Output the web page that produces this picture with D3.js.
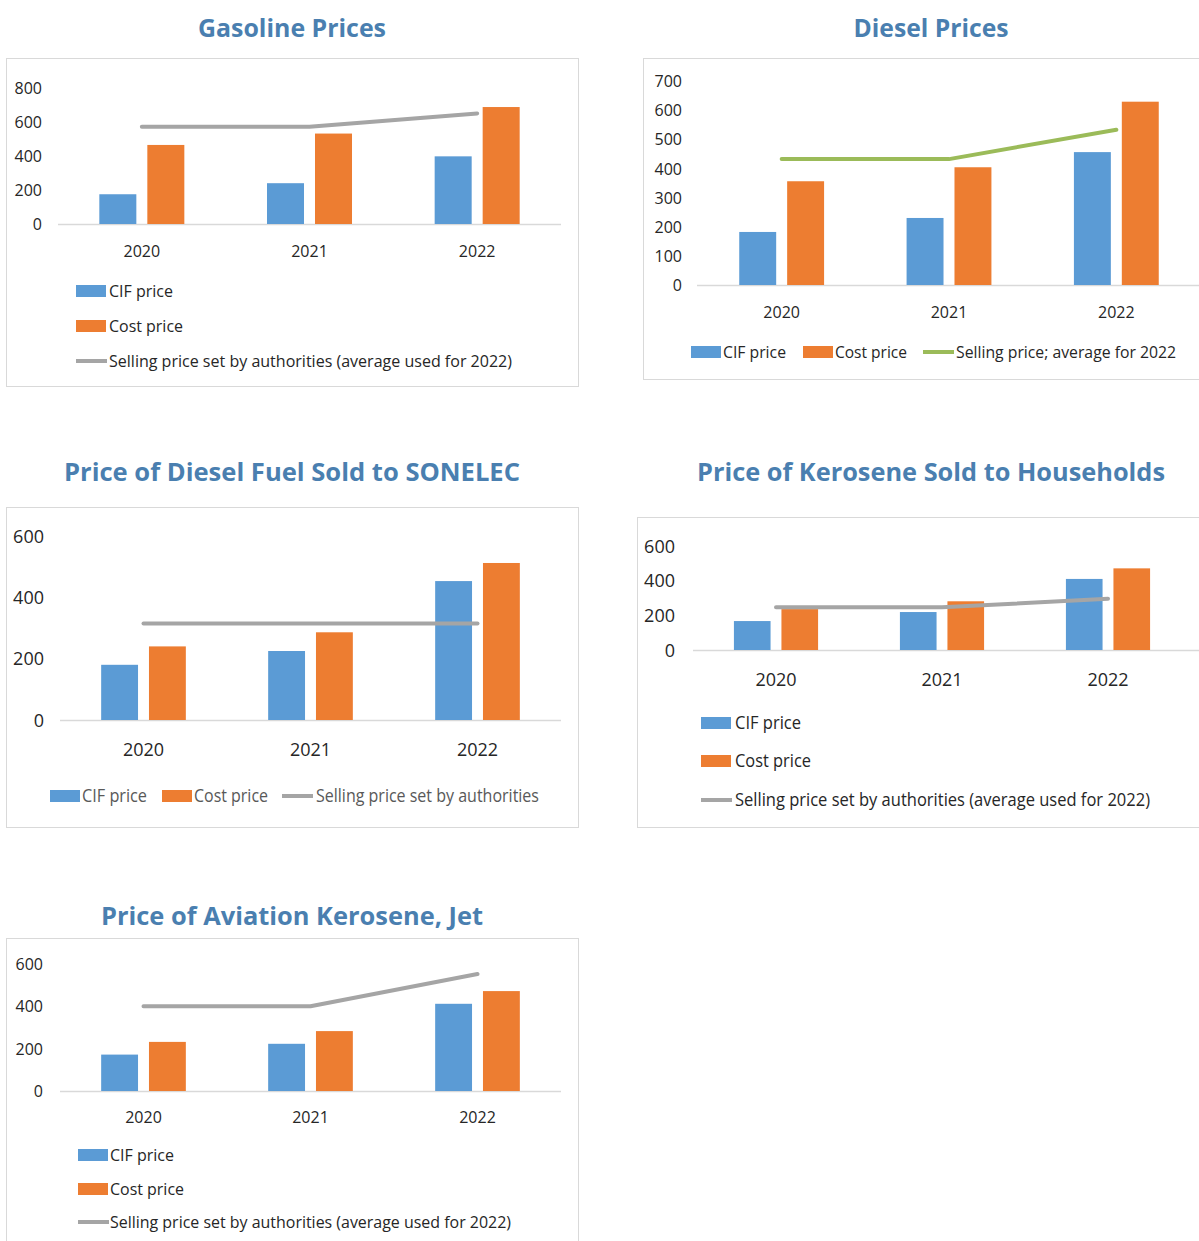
<!DOCTYPE html>
<html><head><meta charset="utf-8">
<script src="https://cdn.jsdelivr.net/npm/d3@7"></script>
<style>
html,body{margin:0;padding:0;background:#fff;}
svg{display:block;font-family:"Open Sans","Noto Sans",sans-serif;}
</style></head>
<body>
<svg id="chart" width="1199" height="1241"></svg>
<script>
// ---------- DATA ----------
const years = ["2020", "2021", "2022"];
const seriesKeys = ["CIF price", "Cost price"];

const gasolineCIF = [175, 240, 398];
const gasolineCost = [465, 532, 688];
const gasolineSelling = [572, 572, 650];
const gasolineTicks = [0, 200, 400, 600, 800];

const dieselCIF = [182, 230, 456];
const dieselCost = [356, 404, 629];
const dieselSelling = [432, 432, 533];
const dieselTicks = [0, 100, 200, 300, 400, 500, 600, 700];

const sonelecCIF = [180, 225, 453];
const sonelecCost = [240, 286, 512];
const sonelecSelling = [315, 315, 315];
const sonelecTicks = [0, 200, 400, 600];

const keroseneCIF = [167, 219, 410];
const keroseneCost = [236, 281, 471];
const keroseneSelling = [246, 246, 296];
const keroseneTicks = [0, 200, 400, 600];

const jetCIF = [172, 223, 412];
const jetCost = [232, 283, 472];
const jetSelling = [400, 400, 553];
const jetTicks = [0, 200, 400, 600];

const titles = ["Gasoline Prices", "Diesel Prices", "Price of Diesel Fuel Sold to SONELEC",
  "Price of Kerosene Sold to Households", "Price of Aviation Kerosene, Jet"];
const sellingLabelLong = "Selling price set by authorities (average used for 2022)";
const sellingLabelDiesel = "Selling price; average for 2022";
const sellingLabelSonelec = "Selling price set by authorities";

// ---------- STYLE ----------
const C_BLUE = "#5b9bd5", C_ORANGE = "#ed7d31", C_GREY = "#a5a5a5", C_GREEN = "#9bbb59";
const C_TITLE = "#4a7fb0", C_TEXT = "#262626", C_FRAME = "#d9d9d9";

const svg = d3.select("#chart");

function drawPanel(p) {
  const g = svg.append("g");
  // frame
  g.append("rect").attr("x", p.box[0] + 0.5).attr("y", p.box[1] + 0.5)
    .attr("width", p.box[2]).attr("height", p.box[3])
    .attr("fill", "none").attr("stroke", C_FRAME).attr("stroke-width", 1);
  // title
  g.append("text").attr("x", p.titleX).attr("y", p.titleY)
    .attr("text-anchor", "middle").attr("font-weight", 700).attr("font-size", 25)
    .attr("fill", C_TITLE).attr("textLength", p.titleW).attr("lengthAdjust", "spacingAndGlyphs")
    .text(p.title);

  const x0 = d3.scaleBand().domain(years).range(p.xr).paddingInner(0.493).paddingOuter(0.2465);
  const x1 = d3.scaleBand().domain(seriesKeys).range([0, x0.bandwidth()]).paddingInner(0.229);
  const y = d3.scaleLinear().domain([0, d3.max(p.ticks)]).range([p.y0, p.yTop]);

  // y axis labels
  const ya = d3.axisLeft(y).tickValues(p.ticks).tickSize(0).tickPadding(0);
  const yg = g.append("g").attr("transform", `translate(${p.tickX},0)`).call(ya);
  yg.select(".domain").remove();
  yg.selectAll("text").attr("font-size", p.tickFs).attr("fill", C_TEXT)
    .attr("font-family", "Open Sans").attr("dy", "0.35em");

  // x axis line
  g.append("line").attr("x1", p.axisX[0]).attr("x2", p.axisX[1])
    .attr("y1", y(0) + 0.5).attr("y2", y(0) + 0.5).attr("stroke", C_FRAME).attr("stroke-width", 1.5);

  // x labels
  const xa = d3.axisBottom(x0).tickSize(0).tickPadding(0);
  const xg = g.append("g").attr("transform", `translate(0,${p.catY})`).call(xa);
  xg.select(".domain").remove();
  xg.selectAll("text").attr("font-size", p.catFs).attr("fill", C_TEXT)
    .attr("font-family", "Open Sans").attr("dy", "0.35em");

  // bars
  const rows = years.map((yr, i) => ({ yr, vals: [p.cif[i], p.cost[i]] }));
  const colors = [C_BLUE, C_ORANGE];
  g.selectAll(".grp").data(rows).join("g")
    .attr("transform", d => `translate(${x0(d.yr)},0)`)
    .selectAll("rect").data(d => d.vals.map((v, k) => ({ k, v })))
    .join("rect")
    .attr("x", d => x1(seriesKeys[d.k]))
    .attr("width", x1.bandwidth())
    .attr("y", d => y(d.v))
    .attr("height", d => y(0) - y(d.v))
    .attr("fill", d => colors[d.k]);

  // selling line
  const line = d3.line().x((d, i) => x0(years[i]) + x0.bandwidth() / 2).y(d => y(d));
  g.append("path").datum(p.sell).attr("d", line).attr("fill", "none")
    .attr("stroke", p.lineColor).attr("stroke-width", 4).attr("stroke-linecap", "round")
    .attr("stroke-linejoin", "round");

  // legend
  const items = [
    { label: seriesKeys[0], type: "rect", color: C_BLUE },
    { label: seriesKeys[1], type: "rect", color: C_ORANGE },
    { label: p.sellLabel, type: "line", color: p.lineColor }
  ];
  items.forEach((it, i) => {
    const L = p.legend[i]; // [swatchX, y, textX, textW]
    if (it.type === "rect") {
      g.append("rect").attr("x", L[0]).attr("y", L[1] - 6).attr("width", 30).attr("height", 12)
        .attr("fill", it.color);
    } else {
      g.append("line").attr("x1", L[0]).attr("x2", L[0] + 31).attr("y1", L[1]).attr("y2", L[1])
        .attr("stroke", it.color).attr("stroke-width", 4);
    }
    g.append("text").attr("x", L[2]).attr("y", L[1]).attr("dy", "0.35em")
      .attr("font-size", p.legFs).attr("fill", p.legColor || C_TEXT)
      .attr("textLength", L[3]).attr("lengthAdjust", "spacingAndGlyphs")
      .text(it.label);
  });
}

drawPanel({
  title: titles[0], titleX: 292, titleY: 37, titleW: 188,
  box: [6, 58, 572, 328], xr: [58, 561], axisX: [58, 561], y0: 224, yTop: 88,
  ticks: gasolineTicks, tickX: 42, tickFs: 16, catY: 251, catFs: 16,
  cif: gasolineCIF, cost: gasolineCost, sell: gasolineSelling, lineColor: C_GREY,
  sellLabel: sellingLabelLong, legFs: 16,
  legend: [[76, 291, 109, 64], [76, 326, 109, 74], [76, 361, 109, 403]]
});

drawPanel({
  title: titles[1], titleX: 931, titleY: 37, titleW: 155,
  box: [643, 58, 600, 321], xr: [698, 1200], axisX: [697, 1199], y0: 285, yTop: 81,
  ticks: dieselTicks, tickX: 682, tickFs: 16, catY: 312, catFs: 16,
  cif: dieselCIF, cost: dieselCost, sell: dieselSelling, lineColor: C_GREEN,
  sellLabel: sellingLabelDiesel, legFs: 16,
  legend: [[691, 352, 723, 63], [803, 352, 835, 72], [923, 352, 956, 220]]
});

drawPanel({
  title: titles[2], titleX: 292, titleY: 481, titleW: 456,
  box: [6, 507, 572, 320], xr: [60, 561], axisX: [60, 561], y0: 720, yTop: 536,
  ticks: sonelecTicks, tickX: 44, tickFs: 18, catY: 750, catFs: 18,
  cif: sonelecCIF, cost: sonelecCost, sell: sonelecSelling, lineColor: C_GREY,
  sellLabel: sellingLabelSonelec, legFs: 18, legColor: "#595959",
  legend: [[50, 796, 82, 65], [162, 796, 194, 74], [282, 796, 316, 223]]
});

drawPanel({
  title: titles[3], titleX: 931, titleY: 481, titleW: 468,
  box: [637, 517, 600, 310], xr: [693, 1191], axisX: [693, 1199], y0: 650, yTop: 546,
  ticks: keroseneTicks, tickX: 675, tickFs: 18, catY: 680, catFs: 18,
  cif: keroseneCIF, cost: keroseneCost, sell: keroseneSelling, lineColor: C_GREY,
  sellLabel: sellingLabelLong, legFs: 18,
  legend: [[701, 723, 735, 66], [701, 761, 735, 76], [701, 800, 735, 415]]
});

drawPanel({
  title: titles[4], titleX: 292, titleY: 925, titleW: 382,
  box: [6, 938, 572, 320], xr: [60, 561], axisX: [60, 561], y0: 1091, yTop: 964,
  ticks: jetTicks, tickX: 43, tickFs: 16, catY: 1117, catFs: 16,
  cif: jetCIF, cost: jetCost, sell: jetSelling, lineColor: C_GREY,
  sellLabel: sellingLabelLong, legFs: 16,
  legend: [[78, 1155, 110, 64], [78, 1189, 110, 74], [78, 1222, 110, 401]]
});
</script>
</body></html>
